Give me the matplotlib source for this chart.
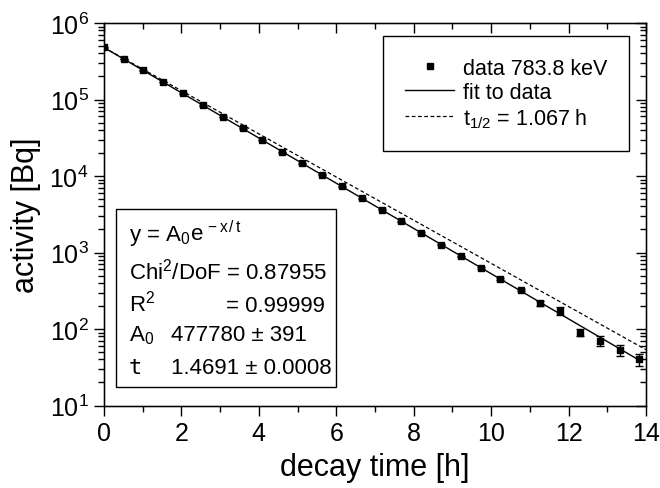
import numpy as np
import matplotlib
matplotlib.use("Agg")
import matplotlib.pyplot as plt
from matplotlib.patches import Rectangle
from matplotlib.lines import Line2D
from matplotlib.ticker import LogLocator, MultipleLocator, NullFormatter

plt.rcParams['font.family'] = ['Liberation Sans', 'DejaVu Sans']
plt.rcParams['mathtext.fontset'] = 'custom'
plt.rcParams['mathtext.rm'] = 'Liberation Sans'
plt.rcParams['mathtext.it'] = 'Liberation Sans'
plt.rcParams['mathtext.bf'] = 'Liberation Sans'
plt.rcParams['mathtext.sf'] = 'Liberation Sans'
plt.rcParams['mathtext.default'] = 'rm'

# ---- data ----
decay_time = [0.0, 0.51, 1.02, 1.53, 2.05, 2.56, 3.07, 3.58, 4.09, 4.61,
              5.12, 5.63, 6.14, 6.66, 7.17, 7.68, 8.19, 8.71, 9.22, 9.73,
              10.24, 10.76, 11.27, 11.78, 12.29, 12.80, 13.32, 13.83]
activity = [480000, 340000, 240000, 170000, 120000, 84000, 59000, 42000, 29500, 20500,
            14700, 10400, 7300, 5100, 3600, 2550, 1800, 1270, 890, 630,
            455, 320, 216, 172, 90, 70, 53, 40]
activity_err = [5000, 3500, 2500, 1800, 1300, 900, 650, 480, 350, 250,
                190, 140, 100, 75, 55, 42, 32, 25, 19, 15,
                12, 10, 19, 20, 9, 10, 9, 7]

A0 = 477780
tau_fit = 1.4691
t_half = 1.067

legend_labels = ["data 783.8 keV", "fit to data", r"t$_{1/2}$ = 1.067 h"]

fig = plt.figure(figsize=(6.6, 4.89), dpi=100)
ax = fig.add_axes([104/660, 1-406.5/489, 542/660, 382.5/489])

x_fit = np.linspace(0, 13.9, 200)
ax.plot(x_fit, A0*np.exp(-x_fit/tau_fit), color='black', lw=1.0, zorder=3)
x_half = np.linspace(0, 14, 200)
ax.plot(x_half, A0*np.exp(-x_half*np.log(2)/t_half), color='black', lw=0.9,
        ls=(0, (3, 2)), zorder=3)
ax.errorbar(decay_time, activity, yerr=activity_err, fmt='s', color='black',
            ms=4.3, capsize=3, elinewidth=1.0, capthick=1.0, zorder=4)

ax.set_yscale('log')
ax.set_xlim(0, 14)
ax.set_ylim(10, 1e6)
ax.xaxis.set_major_locator(MultipleLocator(2))
ax.xaxis.set_minor_locator(MultipleLocator(1))
ax.yaxis.set_major_locator(LogLocator(base=10, numticks=10))
ax.yaxis.set_minor_locator(LogLocator(base=10, subs=np.arange(2, 10), numticks=20))
ax.yaxis.set_minor_formatter(NullFormatter())
ax.tick_params(which='major', direction='out', length=7, width=1, labelsize=18, pad=4)
ax.tick_params(which='minor', direction='out', length=4, width=1)
for s in ax.spines.values():
    s.set_linewidth(1.0)

# mirrored axes with inward ticks
axt = ax.twiny()
axt.set_xlim(ax.get_xlim())
axt.xaxis.set_major_locator(MultipleLocator(2))
axt.xaxis.set_minor_locator(MultipleLocator(1))
axt.tick_params(which='major', direction='in', length=7, width=1, labeltop=False)
axt.tick_params(which='minor', direction='in', length=4, width=1)
axr = ax.twinx()
axr.set_yscale('log')
axr.set_ylim(ax.get_ylim())
axr.yaxis.set_major_locator(LogLocator(base=10, numticks=10))
axr.yaxis.set_minor_locator(LogLocator(base=10, subs=np.arange(2, 10), numticks=20))
axr.tick_params(which='major', direction='in', length=7, width=1, labelright=False)
axr.tick_params(which='minor', direction='in', length=4, width=1, labelright=False)

ax.set_xlabel("decay time [h]", fontsize=22, labelpad=5)
ax.set_ylabel("activity [Bq]", fontsize=22, labelpad=6)

# legend
handles = [Line2D([], [], marker='s', ls='none', color='black', ms=4.3),
           Line2D([], [], color='black', lw=1.0),
           Line2D([], [], color='black', lw=0.9, ls=(0, (3, 2)))]
leg = axr.legend(handles, legend_labels, loc='upper right',
                 bbox_to_anchor=(0.9686, 0.966), borderaxespad=0,
                 fontsize=15.5, frameon=True, fancybox=False, edgecolor='black',
                 framealpha=1, handlelength=2.3, handletextpad=0.4,
                 borderpad=1.0, labelspacing=0.15)
leg.get_frame().set_linewidth(1.0)

# fit box
def px(xp, yp):
    return ((xp-104)/542, 1-(yp-24)/382.5)

x0, y0 = px(116, 388)
x1, y1 = px(336, 210)
axr.add_patch(Rectangle((x0, y0), x1-x0, y1-y0, transform=axr.transAxes,
                        facecolor='white', edgecolor='black', lw=1.0, zorder=5))
fs = 16
def t(xp, yp, s, **kw):
    axr.text(*px(xp, yp), s, transform=axr.transAxes, fontsize=fs,
             va='baseline', ha='left', zorder=6, **kw)

t(129, 241, r"y = A$_0$")
t(190, 241, r"e$^{\,-x\,/\,t}$")
t(129, 280, r"Chi$^2$/DoF = 0.87955")
t(129, 312, r"R$^2$")
t(226, 312, "= 0.99999")
t(129, 341, r"A$_0$")
t(171, 341, "477780 ± 391")
axr.text(*px(129, 374), "t", transform=axr.transAxes, fontsize=fs,
         va='baseline', ha='left', zorder=6, family='DejaVu Sans Mono')
t(171, 374, "1.4691 ± 0.0008")

fig.savefig("out.png", dpi=100)
